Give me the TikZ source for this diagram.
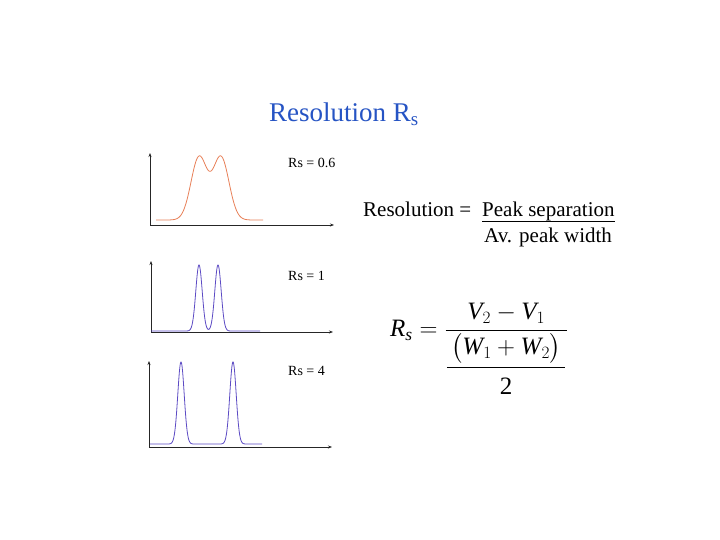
\documentclass[tikz,border=0pt]{standalone}
\usepackage{fontspec}
\setmainfont{Liberation Serif}
\usepackage{amsmath}
\usetikzlibrary{positioning, arrows.meta}
\definecolor{titleblue}{RGB}{38,84,196}
\definecolor{peakO}{RGB}{232,128,88}
\definecolor{peakB}{RGB}{92,74,196}
\colorlet{axisc}{black!85}
\tikzset{
  axis/.style    ={-{Stealth[length=4pt, width=3pt]}, axisc, line width=0.6pt},
  trace/.style   ={line width=0.8pt, smooth, samples=321, variable=\t},
  rslabel/.style ={font=\fontsize{14}{16}\selectfont, anchor=base west, inner sep=0pt},
  eqtext/.style  ={font=\fontsize{21}{24}\selectfont, anchor=base west, inner sep=0pt},
}

\begin{document}
\begin{tikzpicture}[x=1pt, y=-1pt]
\useasboundingbox[fill=white] (0,0) rectangle (720,540);

% --- title ---
\node[font=\fontsize{27}{30}\selectfont, text=titleblue, anchor=base west, inner sep=0pt]
     (title) at (269,122) {Resolution R\textsubscript{s}};

% --- panel 1: Rs = 0.6 ---
\coordinate (o1) at (150,225);
\draw[axis] (o1) -- ++(0,-72);
\draw[axis] (o1) -- ++(184,0);
\draw[trace, peakO] plot[domain=156:263]
  (\t, {220-62.6*(exp(-((\t-199)^2)/128)+exp(-((\t-221)^2)/128))});
\node[rslabel] (rs1) at (288,168) {Rs = 0.6};

% --- panel 2: Rs = 1 ---
\coordinate (o2) at (151,332);
\draw[axis] (o2) -- ++(0,-71);
\draw[axis] (o2) -- ++(182,0);
\draw[trace, peakB] plot[domain=151:260]
  (\t, {331-66*(exp(-((\t-199)^2)/20.5)+exp(-((\t-218)^2)/20.5))});
\node[rslabel] (rs2) at (288,280) {Rs = 1};

% --- panel 3: Rs = 4 ---
\coordinate (o3) at (149,447);
\draw[axis] (o3) -- ++(0,-86);
\draw[axis] (o3) -- ++(183,0);
\draw[trace, peakB] plot[domain=150:262]
  (\t, {444-82*(exp(-((\t-181)^2)/20.5)+exp(-((\t-233)^2)/20.5))});
\node[rslabel] (rs4) at (288,375) {Rs = 4};

% --- word definition ---
\node[eqtext] (reslbl) at (363,216) {Resolution =};
\node[eqtext] (sepnum) at (482,216) {Peak separation};
\node[eqtext] (widden) at (484,243) {Av. peak width};
\draw[line width=1.2pt] ([yshift=-1pt]sepnum.south west) -- ([yshift=-1pt]sepnum.south east);

% --- formula ---
\node[font=\fontsize{25}{29}\selectfont, anchor=west, inner sep=0pt]
     (rsform) at (390,349)
     {$\mathit{R}_{\mathit{s}} = \dfrac{\,\mathit{V}_{2}-\mathit{V}_{1}\,}
        {\dfrac{\,\bigl(\mathit{W}_{1}+\mathit{W}_{2}\bigr)\,}{\rule{0pt}{24pt}\mathrm{2}}}$};

\end{tikzpicture}
\end{document}
